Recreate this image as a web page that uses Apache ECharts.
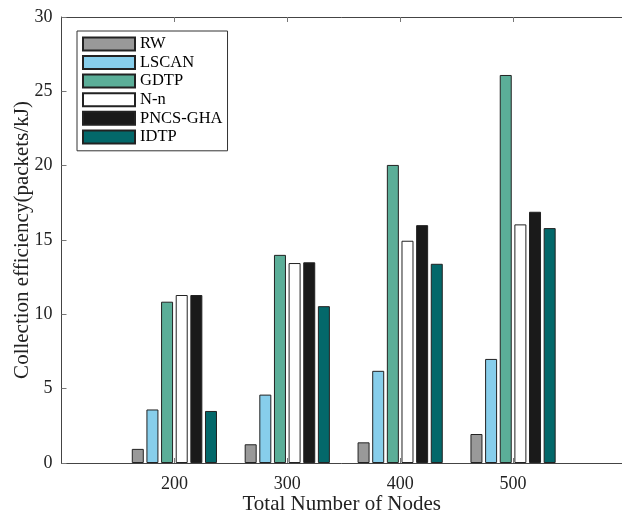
<!DOCTYPE html>
<html>
<head>
<meta charset="utf-8">
<script src="https://cdn.jsdelivr.net/npm/echarts@6/dist/echarts.min.js"></script>
<style>
  html, body { margin: 0; padding: 0; background: #fff; overflow: hidden; }
  #chart { width: 622px; height: 517px; }
</style>
</head>
<body>
<div id="chart"></div>
<script>
// Network sizes (x categories) and collection efficiency per method
const categories = ['200', '300', '400', '500'];
const seriesNames = ['RW', 'LSCAN', 'GDTP', 'N-n', 'PNCS-GHA', 'IDTP'];
const rw    = [0.95, 1.26, 1.39, 1.95];
const lscan = [3.6, 4.6, 6.2, 7.0];
const gdtp  = [10.85, 14.0, 20.05, 26.1];
const nn    = [11.3, 13.45, 14.95, 16.05];
const pncs  = [11.3, 13.5, 16.0, 16.9];
const idtp  = [3.5, 10.55, 13.4, 15.8];
const yTicks = [0, 5, 10, 15, 20, 25, 30];

const colors = ['#999999', '#87ceeb', '#5bae98', '#ffffff', '#1a1a1a', '#03686a'];
const values = [rw, lscan, gdtp, nn, pncs, idtp];

const FONT = '"Liberation Serif", "Times New Roman", serif';
const AXIS_COLOR = '#444';

// Categories sit at positions 1..n on a numeric axis; the visible window ends
// just short of position n + 1, so the right edge of the frame falls off-canvas.
const toPoints = arr => arr.map((v, i) => [i + 1, v]);
const catPositions = categories.map((c, i) => i + 1);
const X_MAX = 4.965;

const chart = echarts.init(document.getElementById('chart'), null, { renderer: 'canvas' });

const xCommon = {
  type: 'value',
  min: 0,
  max: X_MAX,
  splitLine: { show: false },
  axisLine: { show: true, onZero: false, lineStyle: { color: AXIS_COLOR, width: 1 } },
  axisTick: {
    show: true, inside: true, length: 5,
    lineStyle: { color: '#777' },
    customValues: catPositions
  }
};

chart.setOption({
  animation: false,
  backgroundColor: '#fff',
  grid: { left: 61.5, right: 0, top: 17, bottom: 54, outerBoundsMode: 'none', containLabel: false },
  legend: {
    orient: 'vertical',
    left: 77,
    top: 31,
    data: seriesNames,
    icon: 'rect',
    itemWidth: 52,
    itemHeight: 13,
    itemGap: 1.6,
    padding: [4.4, 5, 5.4, 5],
    borderColor: '#333',
    borderWidth: 1,
    backgroundColor: '#fff',
    textStyle: { fontFamily: FONT, fontSize: 16.5, color: '#000' }
  },
  xAxis: [
    Object.assign({}, xCommon, {
      position: 'bottom',
      name: 'Total Number of Nodes',
      nameLocation: 'middle',
      nameGap: 31,
      nameMoveOverlap: false,
      nameTextStyle: { fontFamily: FONT, fontSize: 21, color: '#222' },
      axisLabel: {
        show: true,
        fontFamily: FONT, fontSize: 18, color: '#222', margin: 12,
        customValues: catPositions,
        formatter: v => categories[Math.round(v) - 1] || ''
      }
    }),
    Object.assign({}, xCommon, {
      position: 'top',
      axisLabel: { show: false }
    })
  ],
  yAxis: {
    type: 'value',
    min: 0, max: 30, interval: 5,
    position: 'left',
    name: 'Collection efficiency(packets/kJ)',
    nameLocation: 'middle',
    nameGap: 29,
    nameMoveOverlap: false,
    nameTextStyle: { fontFamily: FONT, fontSize: 21, color: '#222' },
    splitLine: { show: false },
    axisLine: { show: true, onZero: false, lineStyle: { color: AXIS_COLOR, width: 1 } },
    axisTick: { show: true, inside: true, length: 5, lineStyle: { color: '#777' } },
    axisLabel: {
      fontFamily: FONT, fontSize: 18, color: '#222', margin: 9,
      customValues: yTicks
    }
  },
  series: seriesNames.map((name, k) => ({
    name,
    type: 'bar',
    data: toPoints(values[k]),
    barWidth: 12,
    barGap: '22%',
    itemStyle: { color: colors[k], borderColor: '#222', borderWidth: 1 }
  }))
});
</script>
</body>
</html>
